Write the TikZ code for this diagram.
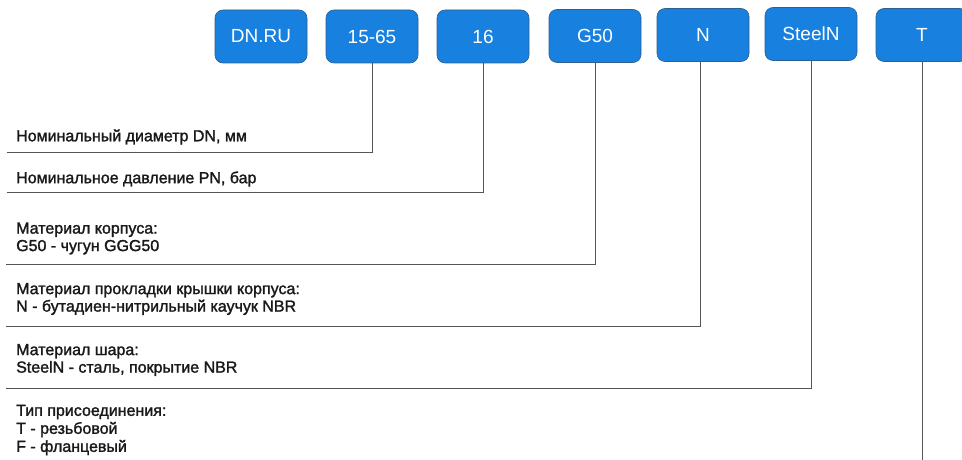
\documentclass[tikz,border=0pt]{standalone}
\usepackage{fontspec}
\setmainfont{Liberation Sans}
\newfontface\lblfont{Liberation Sans}[FakeBold=1.6]
\definecolor{boxblue}{RGB}{24,128,222}
\definecolor{boxedge}{RGB}{45,95,145}
\definecolor{linegray}{RGB}{85,85,85}
\definecolor{txt}{RGB}{25,25,25}
\begin{document}
\begin{tikzpicture}[x=1pt,y=-1pt,
  codebox/.style={draw=boxedge,line width=0.6pt,fill=boxblue,rounded corners=8pt,minimum width=92pt,minimum height=53pt,inner sep=0pt,text=white,font=\fontsize{19}{22}\selectfont},
  lbl/.style={anchor=west,align=left,inner sep=0pt,text=txt,font=\lblfont\fontsize{16}{17.5}\selectfont},
  conn/.style={draw=linegray,line width=0.9pt}]
\useasboundingbox (0,0) rectangle (962,460);
\node[codebox] (b1) at (261,36.5) {DN.RU};
\node[codebox] (b2) at (372,36.5) {15-65};
\node[codebox] (b3) at (483,36.5) {16};
\node[codebox] (b4) at (595,36) {G50};
\node[codebox] (b5) at (703,35) {N};
\node[codebox] (b6) at (811,34) {SteelN};
\node[codebox] (b7) at (922,35) {T};
\coordinate (e2) at (7,152);
\coordinate (e3) at (7,192);
\coordinate (e4) at (6,264);
\coordinate (e5) at (6,326);
\coordinate (e6) at (6,388);
\coordinate (e7) at (922,460);
\draw[conn] (b2.south) |- (e2);
\draw[conn] (b3.south) |- (e3);
\draw[conn] (b4.south) |- (e4);
\draw[conn] (b5.south -| 700,0) |- (e5);
\draw[conn] (b6.south) |- (e6);
\draw[conn] (b7.south) -- (e7);
\node[lbl] (t2) at (16,137) {Номинальный диаметр DN, мм};
\node[lbl] (t3) at (16,179) {Номинальное давление PN, бар};
\node[lbl] (t4) at (16,238.5) {Материал корпуса:\\G50 - чугун GGG50};
\node[lbl] (t5) at (16,299) {Материал прокладки крышки корпуса:\\N - бутадиен-нитрильный каучук NBR};
\node[lbl] (t6) at (16,360) {Материал шара:\\SteelN - сталь, покрытие NBR};
\node[lbl,font=\lblfont\fontsize{16}{18}\selectfont] (t7) at (16,430) {Тип присоединения:\\T - резьбовой\\F - фланцевый};
\end{tikzpicture}
\end{document}
